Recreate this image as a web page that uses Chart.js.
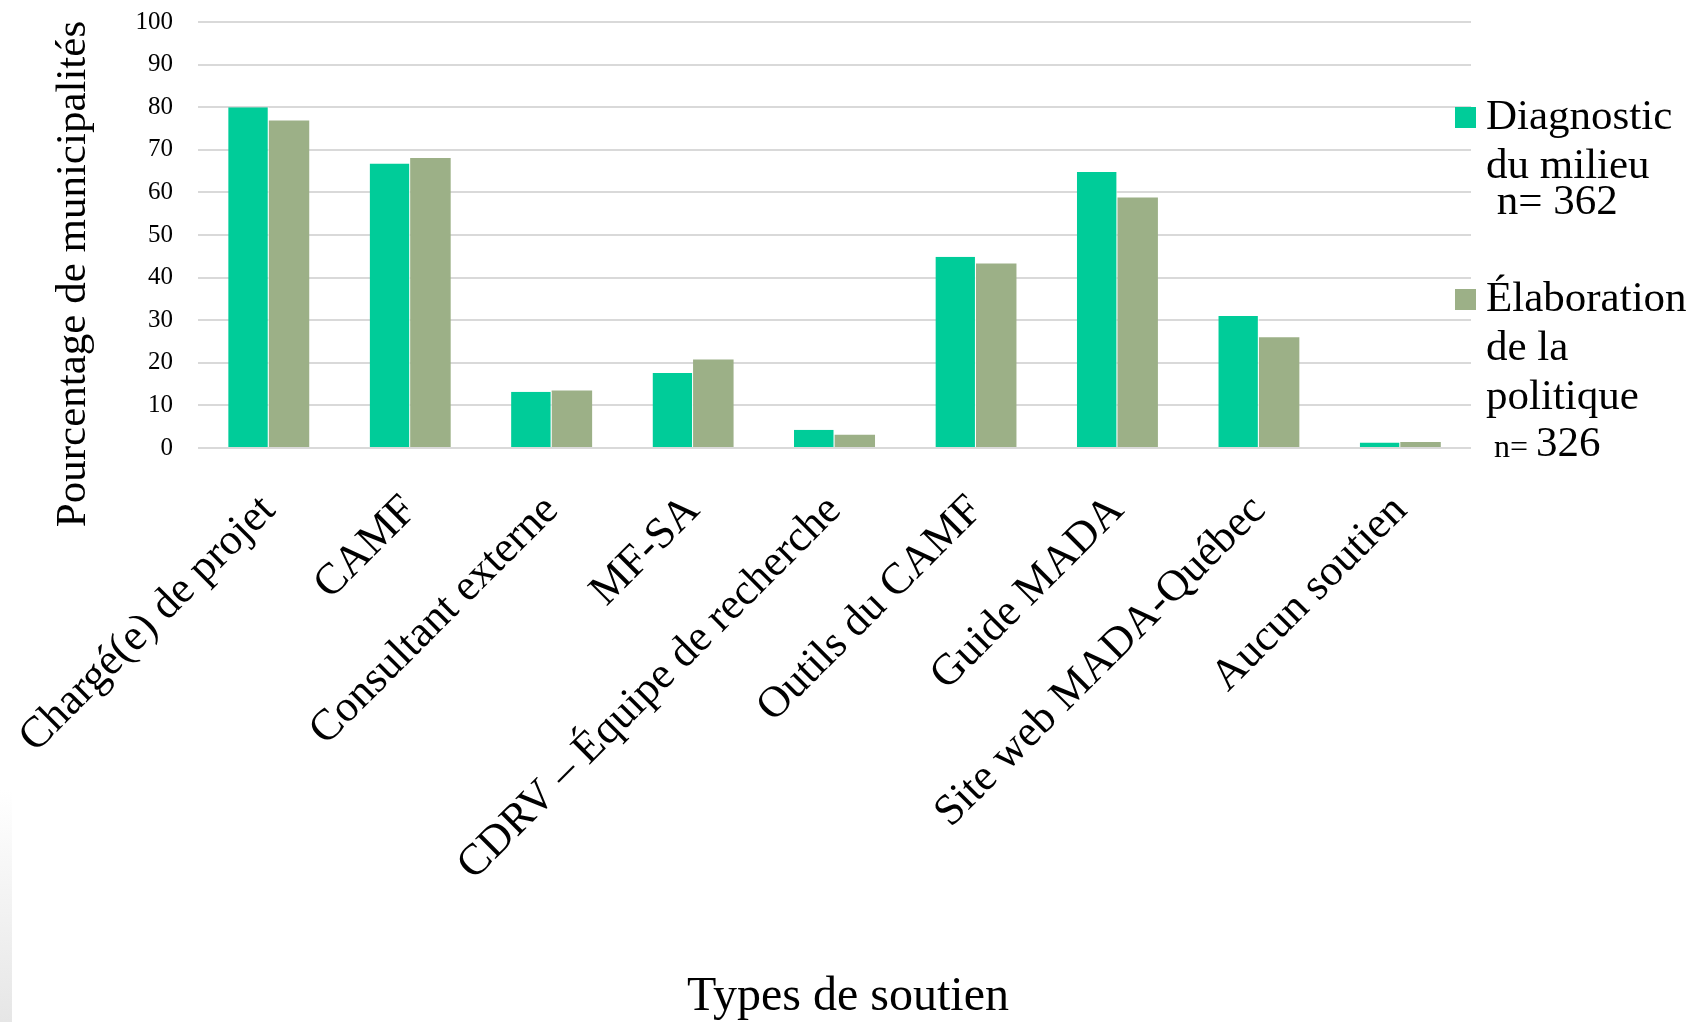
<!DOCTYPE html>
<html lang="fr">
<head>
<meta charset="utf-8">
<title>Types de soutien</title>
<script src="https://cdn.jsdelivr.net/npm/chart.js@4.4.1/dist/chart.umd.min.js"></script>
<style>
    html, body { margin: 0; padding: 0; background: #fff; }
    #wrap { width: 1693px; height: 1022px; position: relative; }
    #edge {
        position: absolute; left: 0; top: 790px; width: 12px; height: 232px;
        background: linear-gradient(to bottom, #ffffff, #e6e6e6);
    }
    #soutienChart { position: relative; }
</style>
</head>
<body>
<div id="wrap"><div id="edge"></div><canvas id="soutienChart"></canvas></div>
<script>
const categories = [
    'Chargé(e) de projet',
    'CAMF',
    'Consultant externe',
    'MF-SA',
    'CDRV – Équipe de recherche',
    'Outils du CAMF',
    'Guide MADA',
    'Site web MADA-Québec',
    'Aucun soutien'
];
const diagnosticValues = [80, 66.8, 13.2, 17.6, 4.3, 44.9, 64.8, 31.0, 1.3];
const elaborationValues = [76.9, 68.1, 13.5, 20.8, 3.1, 43.3, 58.8, 26.0, 1.4];
const yTicks = [0, 10, 20, 30, 40, 50, 60, 70, 80, 90, 100];

const serif = '"Liberation Serif", "Times New Roman", serif';

// titres d'axes et legende dessines a la main (placement libre, texte multi-ligne)
const sideText = {
    id: 'sideText',
    afterDraw(chart) {
        const ctx = chart.ctx;
        const x0 = chart.chartArea.right - 16;
        ctx.save();
        ctx.textBaseline = 'middle';

        // titre axe y
        ctx.save();
        ctx.translate(74, 274);
        ctx.rotate(-Math.PI / 2);
        ctx.textAlign = 'center';
        ctx.fillStyle = '#000';
        ctx.font = '43px ' + serif;
        ctx.fillText('Pourcentage de municipalités', 0, 0);
        ctx.restore();

        // titre axe x
        ctx.textAlign = 'center';
        ctx.fillStyle = '#000';
        ctx.font = '48px ' + serif;
        ctx.fillText('Types de soutien', 848, 997);

        ctx.textAlign = 'left';
        // Diagnostic du milieu
        ctx.fillStyle = '#00CC99';
        ctx.fillRect(x0, 107, 21, 21);
        ctx.fillStyle = '#000';
        ctx.font = '43px ' + serif;
        ctx.fillText('Diagnostic', x0 + 31, 118);
        ctx.fillText('du milieu', x0 + 31, 167);
        ctx.fillText(' n= 362', x0 + 31, 203);

        // Elaboration de la politique
        ctx.fillStyle = '#9CB087';
        ctx.fillRect(x0, 289, 21, 21);
        ctx.fillStyle = '#000';
        ctx.fillText('Élaboration', x0 + 31, 300);
        ctx.fillText('de la', x0 + 31, 349);
        ctx.fillText('politique', x0 + 31, 398);
        ctx.font = '32px ' + serif;
        ctx.fillText(' n=', x0 + 31, 449);
        const w = ctx.measureText(' n= ').width;
        ctx.font = '43px ' + serif;
        ctx.fillText('326', x0 + 31 + w, 445);
        ctx.restore();
    }
};

function createChart() {
    const ctx = document.getElementById('soutienChart').getContext('2d');

    new Chart(ctx, {
        type: 'bar',
        data: {
            labels: categories,
            datasets: [
                {
                    label: 'Diagnostic du milieu n= 362',
                    data: diagnosticValues,
                    backgroundColor: '#00CC99',
                    borderColor: '#ffffff',
                    borderWidth: { left: 0, right: 1, top: 0, bottom: 0 }
                },
                {
                    label: 'Élaboration de la politique n= 326',
                    data: elaborationValues,
                    backgroundColor: '#9CB087'
                }
            ]
        },
        options: {
            responsive: true,
            maintainAspectRatio: false,
            animation: false,
            categoryPercentage: 0.573,
            barPercentage: 1.0,
            layout: {
                padding: { left: 50, right: 222, top: 22, bottom: 2 }
            },
            plugins: {
                legend: { display: false },
                tooltip: { enabled: false }
            },
            scales: {
                x: {
                    grid: { display: false, drawTicks: true, tickLength: 25 },
                    border: { display: false },
                    ticks: {
                        color: '#000',
                        font: { family: serif, size: 44 },
                        maxRotation: 45,
                        minRotation: 45,
                        autoSkip: false,
                        padding: 12
                    },
                    afterFit(scale) {
                        scale.height = 1022 - 448 - 2;
                    }
                },
                y: {
                    min: 0,
                    max: 100,
                    afterBuildTicks(scale) {
                        scale.ticks = yTicks.map(v => ({ value: v }));
                    },
                    grid: {
                        color: '#D9D9D9',
                        lineWidth: 2,
                        drawTicks: true,
                        tickLength: 22,
                        tickColor: 'rgba(0,0,0,0)'
                    },
                    border: { display: false },
                    ticks: {
                        color: '#000',
                        font: { family: serif, size: 25 },
                        padding: 3
                    },
                    afterFit(scale) {
                        scale.width = 198 - 50;
                    }
                }
            }
        },
        plugins: [sideText]
    });
}

document.addEventListener('DOMContentLoaded', createChart);
</script>
</body>
</html>
